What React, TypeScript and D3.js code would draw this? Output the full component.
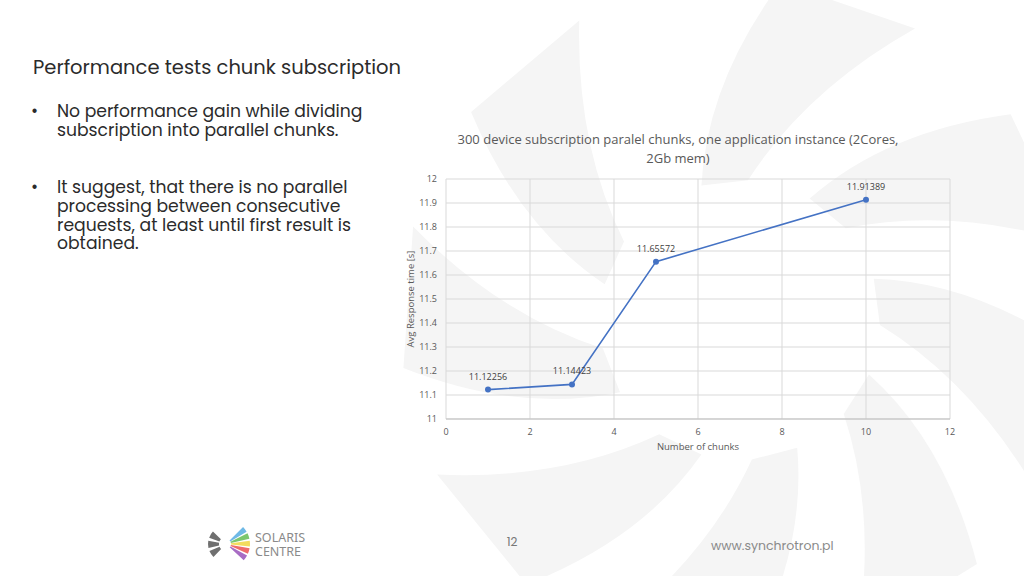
import React from "react";
import * as d3 from "d3";

const chunks = [1, 3, 5, 10];
const responseTimes = [11.12256, 11.14423, 11.65572, 11.91389];
const pointLabels = ["11.12256", "11.14423", "11.65572", "11.91389"];
const xTicks = [0, 2, 4, 6, 8, 10, 12];
const yTicks = [11, 11.1, 11.2, 11.3, 11.4, 11.5, 11.6, 11.7, 11.8, 11.9, 12];

const W = 1024;
const H = 576;

// watermark blade angles (radians, screen), decorative
const bladeAngles = [-1.85, -1.05, -0.3, 0.4, 1.15, 1.85, 2.6, 3.4];
const logoColors = ["#6fb9e6", "#7cc66f", "#f3dc5e", "#ef6b6b", "#a86cc4"];

export default function App() {
  const x = d3.scaleLinear().domain([0, 12]).range([446, 950]);
  const y = d3.scaleLinear().domain([11, 12]).range([419, 179]);
  const line = d3
    .line<number>()
    .x((_, i) => x(chunks[i]))
    .y((d) => y(d));
  const gray = "#595959";
  const chartFont = "'Open Sans', 'Liberation Sans', sans-serif";
  const slideFont = "'Poppins', 'Noto Sans', 'Open Sans', sans-serif";

  const cx = 740;
  const cy = 320;
  const blade = (a: number) => {
    const r1 = 140;
    const r2 = 340;
    const w = 0.42;
    const tw = 0.4;
    const p = (r: number, ang: number) => [cx + r * Math.cos(ang), cy + r * Math.sin(ang)];
    const a1 = p(r1, a);
    const a2 = p(r1, a + w * 0.8);
    const b1 = p(r2, a + tw);
    const b2 = p(r2, a + tw + w);
    const m1 = p((r1 + r2) / 2, a + tw * 0.35);
    const m2 = p((r1 + r2) / 2, a + tw * 0.35 + w);
    return `M${a1} Q${m1} ${b1} L${b2} Q${m2} ${a2} Z`;
  };

  return (
    <svg
      width={W}
      height={H}
      style={{ position: "absolute", left: 0, top: 0 }}
      xmlns="http://www.w3.org/2000/svg"
    >
      <rect x={0} y={0} width={W} height={H} fill="#ffffff" />
      <g fill="#f5f5f5">
        {bladeAngles.map((a) => (
          <path key={"b" + a} d={blade(a)} />
        ))}
      </g>

      {/* slide text */}
      <text x={33} y={74} fontFamily={slideFont} fontSize={19.5} fill="#2b2b2b">
        Performance tests chunk subscription
      </text>
      <g fontFamily={slideFont} fontSize={17.2} fill="#2b2b2b">
        <text x={31} y={117}>•</text>
        <text x={57} y={117}>No performance gain while dividing</text>
        <text x={57} y={136}>subscription into parallel chunks.</text>
        <text x={31} y={193}>•</text>
        <text x={57} y={193}>It suggest, that there is no parallel</text>
        <text x={57} y={212}>processing between  consecutive</text>
        <text x={57} y={231}>requests, at least until first result is</text>
        <text x={57} y={249}>obtained.</text>
      </g>

      {/* chart title */}
      <g fontFamily={chartFont} fontSize={13} fill={gray} textAnchor="middle">
        <text x={678} y={144}>300 device subscription paralel chunks, one application instance (2Cores,</text>
        <text x={678} y={163}>2Gb mem)</text>
      </g>

      {/* gridlines */}
      <g stroke="#d9d9d9" strokeWidth={1}>
        {yTicks.map((t) => (
          <line key={"gy" + t} x1={x(0)} x2={x(12)} y1={y(t)} y2={y(t)} />
        ))}
        {xTicks.map((t) => (
          <line key={"gx" + t} x1={x(t)} x2={x(t)} y1={y(12)} y2={y(11)} />
        ))}
      </g>
      <line x1={x(0)} x2={x(12)} y1={y(11)} y2={y(11)} stroke="#bfbfbf" />

      {/* tick labels */}
      <g fontFamily={chartFont} fontSize={9} fill={gray}>
        {yTicks.map((t) => (
          <text key={"yt" + t} x={x(0) - 9} y={y(t) + 3} textAnchor="end">
            {d3.format("~g")(t)}
          </text>
        ))}
        {xTicks.map((t) => (
          <text key={"xt" + t} x={x(t)} y={y(11) + 16} textAnchor="middle">
            {t}
          </text>
        ))}
      </g>

      {/* axis titles */}
      <text
        x={x(6)}
        y={450}
        fontFamily={chartFont}
        fontSize={9.5}
        fill={gray}
        textAnchor="middle"
      >
        Number of chunks
      </text>
      <text
        transform={`translate(414, ${(y(11) + y(12)) / 2}) rotate(-90)`}
        fontFamily={chartFont}
        fontSize={9.5}
        fill={gray}
        textAnchor="middle"
      >
        Avg Response time [s]
      </text>

      {/* series */}
      <path d={line(responseTimes) || ""} fill="none" stroke="#4472c4" strokeWidth={1.6} />
      {responseTimes.map((v, i) => (
        <circle key={"p" + i} cx={x(chunks[i])} cy={y(v)} r={3} fill="#4472c4" />
      ))}
      <g fontFamily={chartFont} fontSize={9} fill="#404040" textAnchor="middle">
        {responseTimes.map((v, i) => (
          <text key={"l" + i} x={x(chunks[i])} y={y(v) - 10}>
            {pointLabels[i]}
          </text>
        ))}
      </g>

      {/* footer logo */}
      <g transform="translate(226,544)">
        {logoColors.map((c, i) => {
          const a0 = Math.PI / 2 - 0.78 + i * 0.32;
          const arc = d3.arc()({
            innerRadius: 5,
            outerRadius: 24,
            startAngle: a0,
            endAngle: a0 + 0.24,
          } as any);
          return <path key={c} d={arc || ""} fill={c} />;
        })}
        {[0, 1, 2].map((i) => {
          const a0 = -Math.PI / 2 - 0.8 + i * 0.58;
          const arc = d3.arc()({
            innerRadius: 7,
            outerRadius: 18,
            startAngle: a0,
            endAngle: a0 + 0.4,
          } as any);
          return <path key={"g" + i} d={arc || ""} fill="#6f6f6f" />;
        })}
      </g>
      <g fontFamily="'Noto Sans', 'Open Sans', sans-serif" fontSize={12.5} fill="#8a8a8a">
        <text x={255} y={542}>SOLARIS</text>
        <text x={255} y={556}>CENTRE</text>
      </g>
      <text x={512} y={546} fontFamily={slideFont} fontSize={12} fill="#777" textAnchor="middle">
        12
      </text>
      <text x={711} y={550} fontFamily={slideFont} fontSize={12.5} fill="#8a8a8a">
        www.synchrotron.pl
      </text>
    </svg>
  );
}
